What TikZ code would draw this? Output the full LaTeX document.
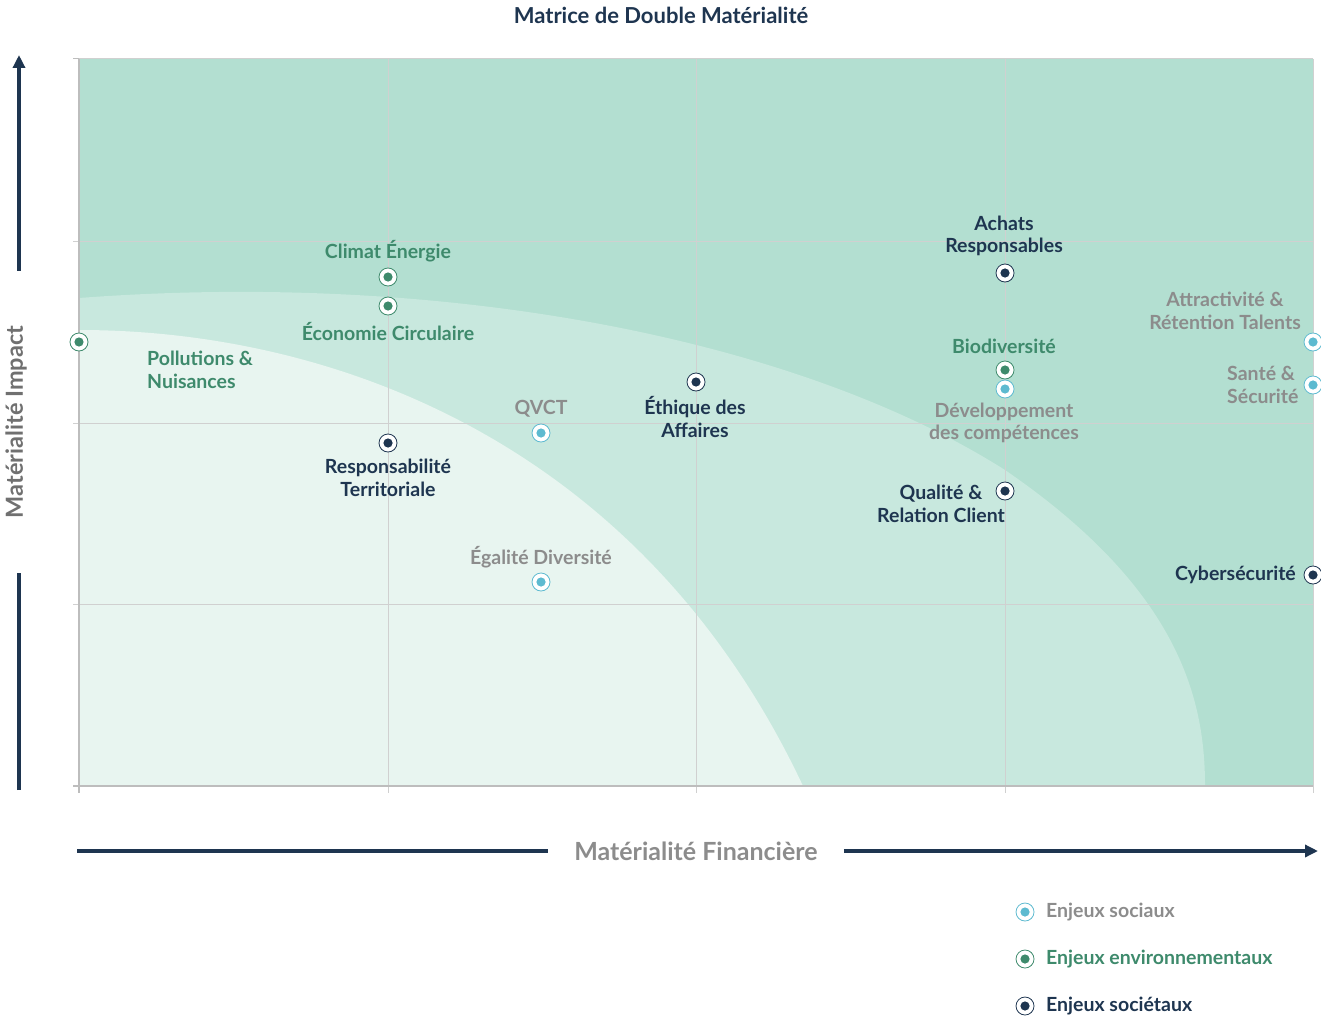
\documentclass[tikz,border=0pt]{standalone}
\usepackage{fontspec}
\setmainfont{Lato}
\usetikzlibrary{arrows.meta}
\definecolor{zonedark}{HTML}{B3DFD1}
\definecolor{zonemid}{HTML}{C8E8DE}
\definecolor{zonelight}{HTML}{E8F5F0}
\definecolor{gridgray}{HTML}{D0D0D0}
\definecolor{framegray}{HTML}{BDBDBD}
\definecolor{navy}{HTML}{1E3550}
\definecolor{txtgray}{HTML}{8C8C8C}
\definecolor{envgreen}{HTML}{3E8A6C}
\definecolor{socblue}{HTML}{5DBAD0}
\newcommand{\lbl}{\fontsize{19.5}{22.5}\selectfont\bfseries}

\begin{document}
\begin{tikzpicture}[x=1pt,y=-1pt,
  enjeu/.style={circle,draw=#1,fill=white,line width=0.8pt,minimum size=18pt,inner sep=0pt,
    path picture={\fill[#1] (path picture bounding box.center) circle (4.6pt);}},
  soc/.style={enjeu=socblue},
  env/.style={enjeu=envgreen},
  sctl/.style={enjeu=navy},
  txt/.style={align=center,inner sep=0pt,font=\lbl,text=#1},
  axis/.style={navy,line width=3.5pt,-{Triangle[length=13pt,width=12pt]}}]
      \useasboundingbox (0,0) rectangle (1321,1019);

      % zones
      \fill[zonedark] (79,59) rectangle (1313,786);
      \fill[zonemid] (79,298) .. controls (450,270) and (800,340) .. (1005,470)
        .. controls (1180,590) and (1205,700) .. (1205,786) -- (79,786) -- cycle;
      \fill[zonelight] (79,330) .. controls (330,330) and (640,440) .. (803,786) -- (79,786) -- cycle;

      % grid
      \foreach \x in {388,696,1005,1313} \draw[gridgray,line width=1pt] (\x,59) -- (\x,793);
      \foreach \y in {59,241,423,604} \draw[gridgray,line width=1pt] (73,\y) -- (1313,\y);
      \draw[framegray,line width=1.2pt] (79,59) -- (79,793) (73,786) -- (1313,786);
      \draw[framegray,line width=1pt] (73,59) -- (79,59);

      \draw (661,15) node(title) [txt=navy,font=\fontsize{22}{26}\selectfont\bfseries] {Matrice de Double Matérialité};

      % axes
      \draw (19,55) coordinate(ytop);
      \draw (19,790) coordinate(ybot);
      \draw (16,422) node(ylab) [rotate=90,inner xsep=55pt,inner ysep=0pt,font=\fontsize{23.5}{27}\selectfont\bfseries,text=txtgray!80!black] {Matérialité Impact};
      \draw[navy,line width=3.5pt] (ybot) -- (ylab.west -| ybot);
      \draw[axis] (ylab.east -| ytop) -- (ytop);

      \draw (77,851) coordinate(xbeg);
      \draw (1318,851) coordinate(xend);
      \draw (696,851) node(xlab) [inner xsep=26pt,inner ysep=0pt,font=\fontsize{25}{29}\selectfont\bfseries,text=txtgray] {Matérialité Financière};
      \draw[navy,line width=3.5pt] (xbeg) -- (xlab.west);
      \draw[axis] (xlab.east) -- (xend);

      % enjeux
      \draw (388,277) node(climat) [env] {};
      \draw (388,306) node(eco) [env] {};
      \draw (79,342) node(pollu) [env] {};
      \draw (1005,370) node(biodiv) [env] {};
      \draw (541,433) node(qvct) [soc] {};
      \draw (541,582) node(egal) [soc] {};
      \draw (1005,389) node(compet) [soc] {};
      \draw (1313,342) node(talents) [soc] {};
      \draw (1313,385) node(sante) [soc] {};
      \draw (388,443) node(territ) [sctl] {};
      \draw (696,382) node(ethique) [sctl] {};
      \draw (1005,273) node(achats) [sctl] {};
      \draw (1005,491) node(qualite) [sctl] {};
      \draw (1313,575) node(cyber) [sctl] {};

      \draw (388,251) node(climatT) [txt=envgreen] {Climat Énergie};
      \draw (388,332) node(ecoT) [txt=envgreen] {Économie Circulaire};
      \draw (147,370) node(polluT) [txt=envgreen,align=left,anchor=west] {Pollutions \&\\Nuisances};
      \draw (1004,346) node(biodivT) [txt=envgreen] {Biodiversité};
      \draw (541,409) node(qvctT) [txt=txtgray] {QVCT};
      \draw (541,557) node(egalT) [txt=txtgray] {Égalité Diversité};
      \draw (1004,423) node(competT) [txt=txtgray] {Développement\\des compétences};
      \draw (1225,311) node(talentsT) [txt=txtgray] {Attractivité \&\\Rétention Talents};
      \draw (1227,385) node(santeT) [txt=txtgray,align=left,anchor=west] {Santé \&\\Sécurité};
      \draw (388,478) node(territT) [txt=navy] {Responsabilité\\Territoriale};
      \draw (695,417) node(ethiqueT) [txt=navy] {Éthique des\\Affaires};
      \draw (1004,236) node(achatsT) [txt=navy] {Achats\\Responsables};
      \draw (941,504) node(qualiteT) [txt=navy] {Qualité \&\\Relation Client};
      \draw (1296,575) node(cyberT) [txt=navy,anchor=east] {Cybersécurité};

      % legende
      \draw (1025,912) node(legsoc) [soc] {};
      \draw (1025,959) node(legenv) [env] {};
      \draw (1025,1006) node(legsctl) [sctl] {};
      \draw (1046,912) node(legsocT) [txt=txtgray,anchor=west] {Enjeux sociaux};
      \draw (1046,959) node(legenvT) [txt=envgreen,anchor=west] {Enjeux environnementaux};
      \draw (1046,1006) node(legsctlT) [txt=navy,anchor=west] {Enjeux sociétaux};
    \end{tikzpicture}
\end{document}
